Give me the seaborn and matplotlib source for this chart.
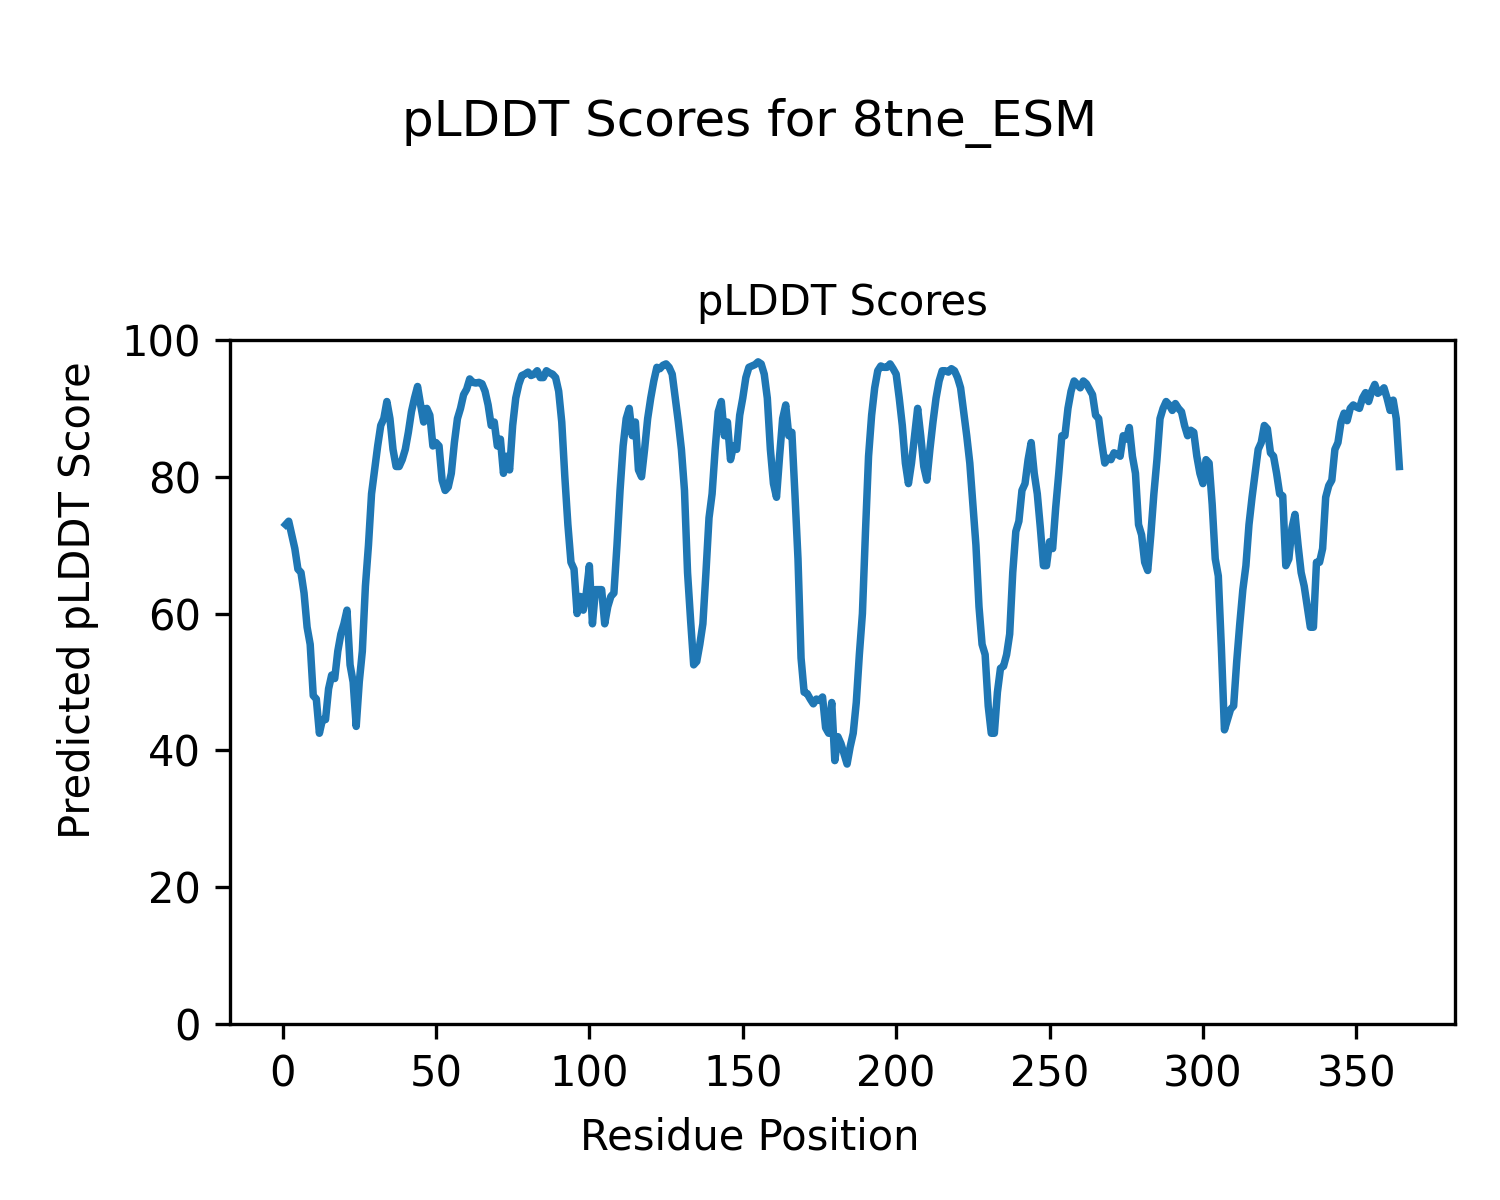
import numpy as np
import pandas as pd
import matplotlib
matplotlib.use("Agg")
import matplotlib.pyplot as plt
import seaborn as sns

# ── Data: per-residue pLDDT values (residues 1..364) ──
PROTEIN = "8tne_ESM"
plddt = [
    73.0, 73.5, 71.5, 69.5, 66.5, 66.0, 63.0, 58.0, 55.5,
    48.0, 47.5, 42.5, 44.5, 44.5, 49.0, 51.0, 50.5, 54.5, 57.0,
    58.5, 60.5, 52.5, 50.0, 43.5, 50.0, 54.5, 64.0, 70.0, 77.5,
    81.0, 84.5, 87.5, 88.5, 91.0, 88.5, 84.0, 81.5, 81.5, 82.5,
    84.0, 86.5, 89.5, 91.5, 93.2, 90.5, 88.0, 90.0, 89.0, 84.5,
    85.0, 84.5, 79.5, 78.0, 78.5, 80.5, 85.0, 88.5, 90.0, 92.0,
    92.8, 94.3, 93.8, 93.7, 93.8, 93.6, 92.5, 90.5, 87.5, 88.0,
    84.5, 85.5, 80.5, 83.0, 81.0, 87.5, 91.5, 93.5, 94.8, 95.0,
    95.3, 94.8, 95.0, 95.5, 94.5, 94.5, 95.5, 95.2, 95.0, 94.5,
    92.5, 88.0, 80.0, 73.0, 67.5, 66.5, 60.0, 62.5, 60.5, 63.0,
    67.0, 58.5, 63.5, 63.5, 63.5, 58.5, 61.0, 62.5, 63.0, 70.0,
    78.0, 84.5, 88.5, 90.0, 86.0, 88.0, 81.0, 80.0, 84.0, 88.5,
    91.5, 94.0, 96.0, 95.8, 96.3, 96.5, 96.0, 95.0, 91.5, 88.0,
    84.0, 78.0, 66.0, 59.0, 52.5, 53.0, 55.5, 58.5, 66.0, 74.0,
    77.5, 84.0, 89.5, 91.0, 86.0, 88.0, 82.5, 84.5, 84.0, 89.0,
    91.5, 94.5, 96.0, 96.2, 96.4, 96.8, 96.5, 95.0, 91.5, 84.0,
    79.0, 77.0, 83.0, 88.5, 90.5, 86.0, 86.5, 77.5, 68.0, 53.5,
    48.5, 48.3, 47.5, 46.8, 47.5, 47.3, 47.8, 43.3, 42.5, 47.0,
    38.5, 42.0, 41.0, 39.5, 38.0, 40.5, 42.5, 47.0, 54.0, 60.0,
    72.0, 83.0, 89.0, 93.0, 95.5, 96.2, 96.0, 96.0, 96.5, 95.8,
    95.0, 91.5, 87.5, 82.0, 79.0, 82.0, 86.0, 90.0, 86.0, 81.5,
    79.5, 84.0, 88.0, 91.5, 94.0, 95.5, 95.5, 95.3, 95.8, 95.5,
    94.5, 93.0, 89.5, 86.0, 82.0, 76.0, 70.0, 61.0, 55.5, 54.0,
    46.5, 42.5, 42.5, 48.5, 52.0, 52.3, 54.0, 57.0, 66.0, 72.0,
    73.5, 78.0, 79.0, 82.5, 85.0, 80.5, 77.5, 72.5, 67.0, 67.0,
    70.5, 69.5, 75.5, 80.5, 86.0, 86.0, 90.0, 92.5, 94.0, 93.5,
    93.0, 94.0, 93.6, 92.8, 92.0, 89.0, 88.5, 85.0, 82.0, 82.7,
    82.5, 83.5, 83.3, 83.0, 86.0, 85.5, 87.2, 83.0, 80.5, 73.0,
    71.5, 67.5, 66.3, 71.5, 77.5, 82.5, 88.5, 90.0, 91.0, 90.5,
    89.7, 90.7, 90.0, 89.5, 87.5, 86.0, 86.8, 86.5, 83.0, 80.5,
    79.0, 82.5, 82.0, 76.0, 68.0, 65.5, 55.0, 43.0, 44.5, 46.0,
    46.5, 53.0, 58.5, 63.5, 67.0, 73.0, 77.0, 80.5, 84.0, 85.0,
    87.5, 87.0, 83.5, 83.0, 80.5, 77.5, 77.2, 67.0, 68.0, 72.5,
    74.5, 70.0, 66.0, 64.0, 61.0, 58.0, 58.0, 67.5, 67.5, 69.5,
    77.0, 78.7, 79.5, 84.0, 85.0, 88.0, 89.3, 88.2, 90.0, 90.5,
    90.2, 90.0, 91.5, 92.3, 91.0, 92.5, 93.5, 92.2, 92.5, 93.0,
    91.5, 89.7, 91.2, 88.5, 81.5,
]
residues = list(range(1, len(plddt) + 1))

df = pd.DataFrame({"Residue Position": residues, "pLDDT": plddt})

# ── Plot ─────────────────────────────────────────────────────────────────────
fig, ax = plt.subplots(figsize=(5, 4), dpi=300)
sns.lineplot(data=df, x="Residue Position", y="pLDDT", ax=ax,
             color="#1f77b4", linewidth=1.8)

ax.set_ylim(0, 100)
ax.set_xlabel("")
ax.set_ylabel("")
ax.set_title("pLDDT Scores", fontsize=10)
fig.suptitle(f"pLDDT Scores for {PROTEIN}", fontsize=12, y=0.918)
fig.supxlabel("Residue Position", fontsize=10, y=0.052, va="center")
fig.supylabel("Predicted pLDDT Score", fontsize=10, x=0.052, ha="center")

fig.subplots_adjust(left=0.1533, right=0.97, bottom=0.1467, top=0.7167)
fig.savefig("out.png", dpi=300)
